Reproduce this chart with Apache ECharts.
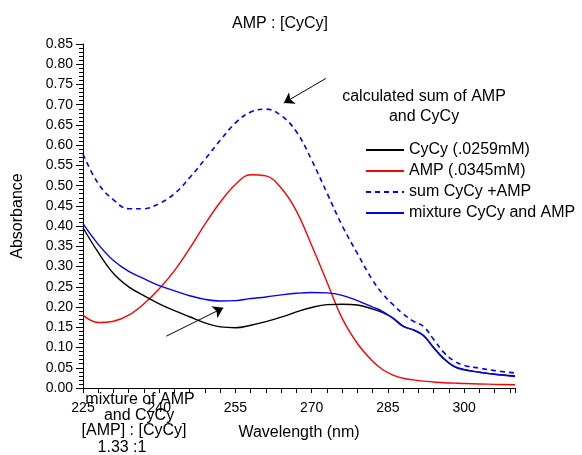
<!DOCTYPE html>
<html>
<head>
<meta charset="utf-8">
<script src="https://cdn.jsdelivr.net/npm/echarts@6/dist/echarts.min.js"></script>
<style>
html,body{margin:0;padding:0;background:#fff;}
#chart{width:582px;height:455px;}
</style>
</head>
<body>
<div id="chart"></div>
<script>
var wavelengths = [225,228,231,234,237,240,243,246,249,252,255,258,261,264,267,270,273,276,279,282,284,286,288,290,292,294,296,298,300,303,306,310];
var cycy    = [0.396,0.335,0.283,0.250,0.228,0.208,0.191,0.176,0.161,0.151,0.149,0.155,0.164,0.175,0.188,0.199,0.206,0.207,0.205,0.195,0.186,0.173,0.153,0.143,0.129,0.099,0.072,0.053,0.045,0.039,0.034,0.030];
var amp     = [0.180,0.162,0.165,0.180,0.208,0.245,0.290,0.345,0.405,0.459,0.503,0.527,0.524,0.494,0.437,0.352,0.262,0.172,0.110,0.066,0.045,0.032,0.024,0.020,0.017,0.015,0.013,0.012,0.011,0.010,0.009,0.008];
var sumCurve= [0.578,0.505,0.465,0.443,0.443,0.456,0.480,0.520,0.565,0.612,0.655,0.682,0.689,0.673,0.633,0.563,0.482,0.401,0.332,0.266,0.232,0.206,0.183,0.165,0.152,0.120,0.088,0.067,0.056,0.049,0.043,0.037];
var mixture = [0.406,0.355,0.315,0.288,0.270,0.253,0.240,0.228,0.219,0.215,0.216,0.221,0.225,0.230,0.234,0.236,0.235,0.229,0.216,0.200,0.189,0.172,0.152,0.144,0.130,0.100,0.073,0.054,0.046,0.039,0.034,0.028];
var seriesNames = ['CyCy (.0259mM)','AMP (.0345mM)','sum CyCy +AMP','mixture CyCy and AMP'];
var arrowSum = [[272.8,0.765],[264.5,0.704]];
var arrowMix = [[241.4,0.128],[252.6,0.198]];

function pairs(vals){ return wavelengths.map(function(w,i){ return [w, vals[i]]; }); }

var font = 'Liberation Sans, Arial, sans-serif';
var chart = echarts.init(document.getElementById('chart'), null, {renderer:'canvas'});
chart.setOption({
  animation:false,
  backgroundColor:'#fff',
  textStyle:{fontFamily:font,color:'#000'},
  grid:{left:83,right:67,top:44,bottom:67},
  xAxis:{
    type:'value',min:225,max:310,interval:15,
    name:'Wavelength (nm)',nameLocation:'middle',nameGap:37,
    nameTextStyle:{fontSize:16,color:'#000',fontFamily:font},
    axisLine:{show:true,lineStyle:{color:'#000',width:1}},
    axisTick:{show:true,inside:false,length:5,lineStyle:{color:'#000'}},
    minorTick:{show:true,splitNumber:5,length:5,lineStyle:{color:'#000'}},
    axisLabel:{fontSize:14,color:'#000',margin:13,fontFamily:font,showMaxLabel:false},
    splitLine:{show:false}
  },
  yAxis:{
    type:'value',min:0,max:0.85,interval:0.05,
    name:'Absorbance',nameLocation:'middle',nameGap:57,nameRotate:90,
    nameTextStyle:{fontSize:16,color:'#000',fontFamily:font},
    axisLine:{show:true,lineStyle:{color:'#000',width:1}},
    axisTick:{show:true,inside:false,length:7,lineStyle:{color:'#000'}},
    minorTick:{show:true,splitNumber:5,length:4,lineStyle:{color:'#000'}},
    axisLabel:{fontSize:14,color:'#000',margin:10,fontFamily:font,formatter:function(v){return v.toFixed(2);}},
    splitLine:{show:false}
  },
  legend:{
    orient:'vertical',left:365,top:142,padding:0,itemWidth:38,itemHeight:14,itemGap:5,
    itemStyle:{opacity:0},
    textStyle:{fontSize:16,color:'#000',fontFamily:font},
    data:seriesNames
  },
  series:[
    {name:seriesNames[2],type:'line',data:pairs(sumCurve),smooth:0.4,symbol:'none',
     lineStyle:{color:'#0000ff',width:1.6,type:[5,4]},itemStyle:{color:'#0000ff'},z:2},
    {name:seriesNames[1],type:'line',data:pairs(amp),smooth:0.4,symbol:'none',
     lineStyle:{color:'#ff0000',width:1.4},itemStyle:{color:'#ff0000'},z:3},
    {name:seriesNames[0],type:'line',data:pairs(cycy),smooth:0.4,symbol:'none',
     lineStyle:{color:'#000000',width:1.4},itemStyle:{color:'#000000'},z:4,
     markLine:{silent:true,symbol:['none','arrow'],symbolSize:10,animation:false,
       label:{show:false},lineStyle:{color:'#000',width:1,type:'solid'},
       itemStyle:{color:'#000'},
       data:[[{coord:arrowSum[0]},{coord:arrowSum[1]}],[{coord:arrowMix[0]},{coord:arrowMix[1]}]]}},
    {name:seriesNames[3],type:'line',data:pairs(mixture),smooth:0.4,symbol:'none',
     lineStyle:{color:'#0000ff',width:1.4},itemStyle:{color:'#0000ff'},z:5}
  ],
  graphic:[
    {type:'text',style:{text:'AMP : [CyCy]',x:280,y:24,align:'center',verticalAlign:'middle',fontSize:16,fontFamily:font,fill:'#000'}},
    {type:'text',style:{text:'calculated sum of AMP',x:424,y:97,align:'center',verticalAlign:'middle',fontSize:16,fontFamily:font,fill:'#000'}},
    {type:'text',style:{text:'and CyCy',x:424,y:117,align:'center',verticalAlign:'middle',fontSize:16,fontFamily:font,fill:'#000'}},
    {type:'text',style:{text:'mixture of AMP',x:140,y:400,align:'center',verticalAlign:'middle',fontSize:16,fontFamily:font,fill:'#000'}},
    {type:'text',style:{text:'and CyCy',x:139,y:416,align:'center',verticalAlign:'middle',fontSize:16,fontFamily:font,fill:'#000'}},
    {type:'text',style:{text:'[AMP] : [CyCy]',x:134,y:431,align:'center',verticalAlign:'middle',fontSize:16,fontFamily:font,fill:'#000'}},
    {type:'text',style:{text:'1.33 :1',x:122,y:448,align:'center',verticalAlign:'middle',fontSize:16,fontFamily:font,fill:'#000'}}
  ]
});
</script>
</body>
</html>
